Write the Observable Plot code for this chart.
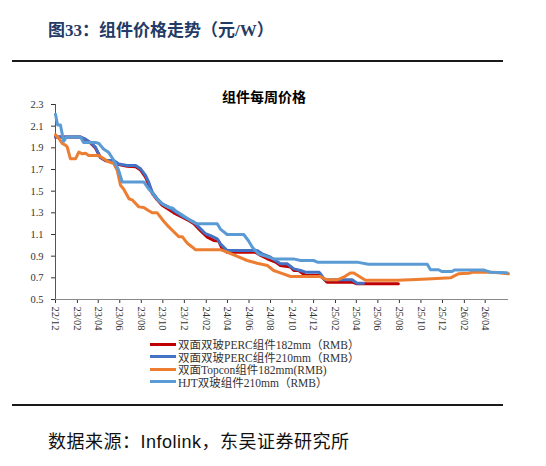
<!DOCTYPE html>
<html><head><meta charset="utf-8">
<script src="https://cdn.jsdelivr.net/npm/d3@7"></script>
<script src="https://cdn.jsdelivr.net/npm/@observablehq/plot@0.6"></script>
<style>
body{margin:0;background:#fff;}
#wrap{position:relative;width:546px;height:466px;overflow:hidden;background:#fff;}
#wrap svg{position:absolute;left:0;top:0;}
.t{position:absolute;white-space:nowrap;line-height:1;}
#title{left:48px;top:16px;font:bold 17px "Liberation Serif","Noto Sans CJK SC",serif;color:#243a66;}
.rule{position:absolute;left:12px;width:491px;height:2px;background:#1a1a1a;}
#ctitle{left:222px;top:86px;font:bold 14px "Noto Sans CJK SC",sans-serif;color:#000;}
#source{left:48px;top:427px;font:18px "Liberation Sans","Noto Sans CJK SC",sans-serif;color:#111;letter-spacing:0.5px;}
.leg{position:absolute;left:150px;height:12px;font:11.5px "Liberation Serif","Noto Sans CJK SC",serif;color:#333;display:flex;align-items:center;white-space:nowrap;}
.leg span.sw{display:inline-block;width:26px;height:3px;margin-right:2px;}
</style></head><body>
<div id="wrap">
  <div class="t" id="title">图33：组件价格走势（元/W）</div>
  <div class="rule" style="top:60px"></div>
  <div class="t" id="ctitle">组件每周价格</div>
  <div class="rule" style="top:404px"></div>
  <div class="t" id="source">数据来源：Infolink，东吴证券研究所</div>
</div>
<script>
const seriesNames = ["双面双玻PERC组件182mm（RMB）","双面双玻PERC组件210mm（RMB）","双面Topcon组件182mm(RMB)","HJT双玻组件210mm（RMB）"];
const seriesColors = ["#C00000","#4472C4","#ED7D31","#5B9BD5"];
const yTicks = [0.5,0.7,0.9,1.1,1.3,1.5,1.7,1.9,2.1,2.3];
const tickDates = ["2022-12-01","2023-02-01","2023-04-01","2023-06-01","2023-08-01","2023-10-01","2023-12-01","2024-02-01","2024-04-01","2024-06-01","2024-08-01","2024-10-01","2024-12-01","2025-02-01","2025-04-01","2025-06-01","2025-08-01","2025-10-01","2025-12-01","2026-02-01","2026-04-01"];
const xDomain = ["2022-12-01","2026-06-06"];

const perc182Dates = ["2022-12-01","2023-02-10","2023-02-24","2023-03-10","2023-03-24","2023-04-07","2023-04-22","2023-05-15","2023-05-29","2023-06-22","2023-07-16","2023-07-30","2023-08-13","2023-08-22","2023-09-01","2023-09-15","2023-09-29","2023-10-18","2023-11-01","2023-11-25","2023-12-18","2023-12-28","2024-01-15","2024-02-04","2024-02-22","2024-03-07","2024-03-17","2024-03-31","2024-06-19","2024-07-04","2024-07-23","2024-08-15","2024-08-29","2024-09-27","2024-10-06","2024-10-20","2024-11-08","2024-12-20","2025-01-08","2025-03-20","2025-04-03","2025-07-29"];
const perc182Values = [2.0,2.0,1.975,1.945,1.9,1.81,1.78,1.775,1.745,1.73,1.725,1.695,1.63,1.56,1.48,1.42,1.37,1.33,1.3,1.26,1.22,1.2,1.137,1.075,1.045,1.04,0.968,0.937,0.937,0.906,0.876,0.845,0.814,0.8,0.768,0.768,0.722,0.722,0.66,0.66,0.645,0.645];

const perc210Dates = ["2022-12-01","2023-02-10","2023-02-24","2023-03-10","2023-03-24","2023-04-07","2023-04-22","2023-05-15","2023-05-29","2023-06-22","2023-07-16","2023-07-30","2023-08-13","2023-08-22","2023-09-01","2023-09-15","2023-09-29","2023-10-18","2023-11-01","2023-11-25","2023-12-18","2023-12-28","2024-01-11","2024-01-30","2024-02-13","2024-03-03","2024-03-12","2024-03-31","2024-06-24","2024-07-08","2024-08-01","2024-08-15","2024-08-29","2024-09-17","2024-10-06","2024-10-25","2024-11-08","2024-12-16","2024-12-20","2025-01-01","2025-03-20","2025-04-03","2025-04-21"];
const perc210Values = [2.0,2.0,1.98,1.95,1.906,1.814,1.783,1.783,1.75,1.737,1.737,1.706,1.645,1.583,1.49,1.43,1.383,1.352,1.32,1.27,1.23,1.214,1.168,1.107,1.09,1.06,1.014,0.952,0.952,0.922,0.89,0.86,0.83,0.83,0.783,0.768,0.752,0.752,0.74,0.683,0.683,0.65,0.65];

const topconDates = ["2022-12-01","2022-12-10","2022-12-20","2022-12-29","2023-01-03","2023-01-12","2023-01-27","2023-02-05","2023-02-15","2023-02-24","2023-03-05","2023-04-03","2023-04-17","2023-05-01","2023-05-15","2023-05-25","2023-06-03","2023-06-12","2023-06-27","2023-07-06","2023-07-25","2023-08-08","2023-08-22","2023-09-01","2023-09-15","2023-10-04","2023-10-18","2023-11-01","2023-11-15","2023-11-25","2023-12-09","2023-12-13","2023-12-23","2024-01-01","2024-03-12","2024-03-31","2024-04-29","2024-05-27","2024-06-24","2024-07-23","2024-08-10","2024-08-29","2024-09-27","2024-12-20","2025-01-08","2025-02-06","2025-02-24","2025-03-15","2025-03-25","2025-04-13","2025-04-27","2025-07-26","2025-09-01","2025-10-19","2025-12-24","2026-01-01","2026-01-15","2026-02-13","2026-02-24","2026-04-24","2026-06-06"];
const topconValues = [2.02,1.99,1.94,1.925,1.91,1.8,1.8,1.86,1.845,1.85,1.83,1.83,1.8,1.77,1.755,1.69,1.555,1.52,1.43,1.42,1.355,1.35,1.32,1.3,1.3,1.22,1.17,1.125,1.08,1.08,1.02,1.01,0.985,0.96,0.96,0.937,0.897,0.86,0.835,0.814,0.768,0.746,0.712,0.712,0.682,0.682,0.706,0.745,0.745,0.706,0.678,0.678,0.683,0.69,0.7,0.713,0.737,0.743,0.752,0.752,0.737];

const hjtDates = ["2022-12-01","2022-12-07","2022-12-15","2022-12-24","2023-01-01","2023-02-10","2023-02-18","2023-03-24","2023-04-03","2023-04-16","2023-04-30","2023-05-14","2023-05-28","2023-06-08","2023-08-08","2023-08-22","2023-09-02","2023-09-19","2023-10-03","2023-10-17","2023-10-28","2023-11-06","2023-11-25","2023-12-18","2023-12-28","2024-01-07","2024-03-03","2024-03-12","2024-03-31","2024-05-17","2024-05-31","2024-06-10","2024-06-28","2024-07-18","2024-08-09","2024-10-05","2024-10-25","2024-12-01","2024-12-12","2025-04-03","2025-05-05","2025-10-19","2025-10-28","2025-11-20","2025-11-30","2025-12-28","2026-01-04","2026-03-27","2026-04-16","2026-06-02"];
const hjtValues = [2.21,2.11,2.11,1.96,2.0,2.0,1.95,1.95,1.94,1.89,1.86,1.79,1.7,1.585,1.585,1.52,1.48,1.41,1.375,1.35,1.345,1.32,1.28,1.23,1.21,1.2,1.2,1.15,1.1,1.1,1.04,0.985,0.92,0.9,0.875,0.875,0.86,0.86,0.845,0.845,0.825,0.825,0.775,0.775,0.758,0.758,0.773,0.773,0.752,0.748];

const seriesDates = [perc182Dates, perc210Dates, topconDates, hjtDates];
const seriesValues = [perc182Values, perc210Values, topconValues, hjtValues];
const rows = [];
seriesNames.forEach((name, i) => {
  seriesDates[i].forEach((d, j) => rows.push({series: name, date: new Date(d), value: seriesValues[i][j]}));
});

const chart = Plot.plot({
  width: 546, height: 466,
  marginLeft: 55, marginRight: 38, marginTop: 104, marginBottom: 167,
  style: {fontFamily: '"Liberation Serif", serif', fontSize: "10.5px", color: "#333", background: "transparent"},
  x: {type: "utc", domain: xDomain.map(d => new Date(d)), ticks: tickDates.map(d => new Date(d)),
      tickFormat: d3.utcFormat("%y/%m"), tickRotate: 90, tickSize: 4, tickPadding: 3, label: null},
  y: {domain: [0.5, 2.3], ticks: yTicks, tickFormat: d3.format(".1f"), tickSize: 4, tickPadding: 8, label: null},
  color: {domain: seriesNames, range: seriesColors},
  marks: [
    Plot.ruleY([0.5], {stroke: "#888"}),
    Plot.ruleX([new Date(xDomain[0])], {stroke: "#555"}),
    Plot.line(rows, {x: "date", y: "value", stroke: "series", z: "series", strokeWidth: 3})
  ]
});
const wrap = document.getElementById("wrap");
wrap.insertBefore(chart, wrap.firstChild);

const legendTops = [338, 350.5, 363, 375.5];
seriesNames.forEach((name, i) => {
  const el = document.createElement("div");
  el.className = "leg";
  el.style.top = legendTops[i] + "px";
  el.innerHTML = `<span class="sw" style="background:${seriesColors[i]}"></span>${name}`;
  wrap.appendChild(el);
});
</script>
</body></html>
